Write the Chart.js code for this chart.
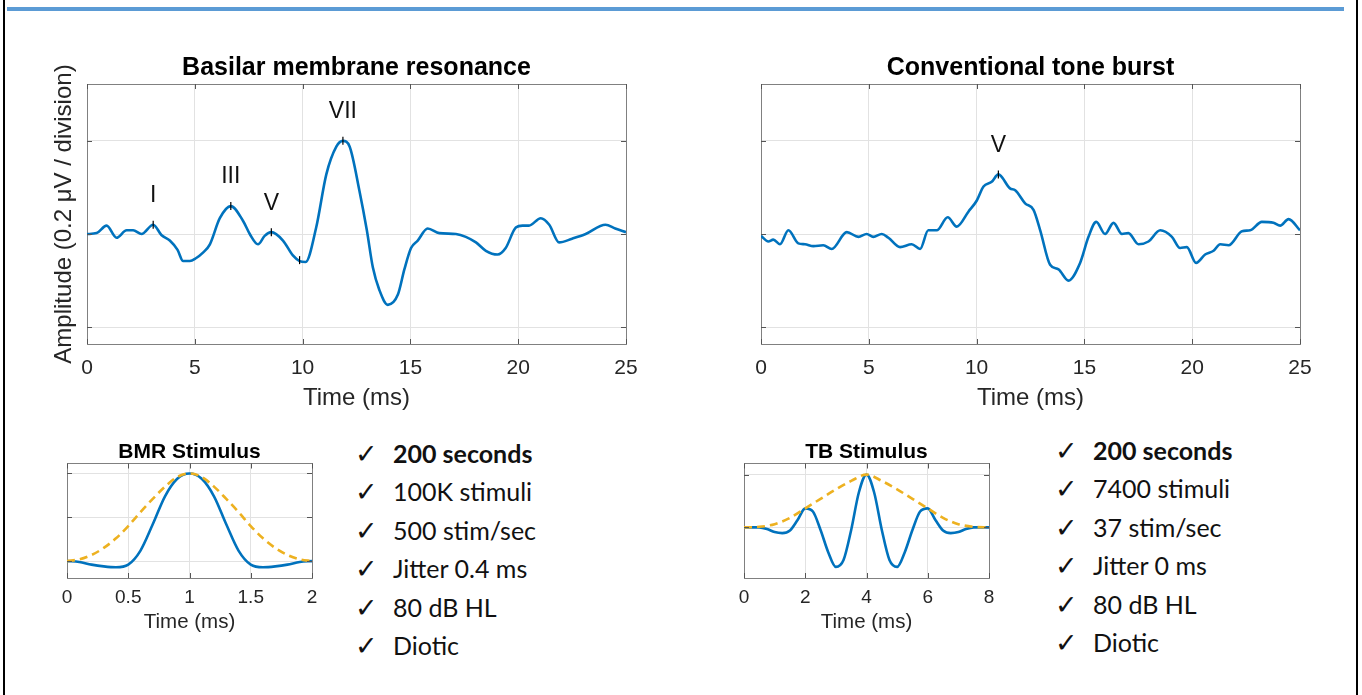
<!DOCTYPE html>
<html>
<head>
<meta charset="utf-8">
<script src="https://cdn.jsdelivr.net/npm/chart.js@4.4.1/dist/chart.umd.min.js"></script>
<style>
  body { margin: 0; width: 1362px; height: 695px; background: #fff; position: relative; overflow: hidden; }
  .frame { position: absolute; left: 3px; top: 0; width: 1351px; height: 700px; border-left: 2px solid #000; border-right: 2px solid #000; }
  .rule { position: absolute; left: 7px; top: 7px; width: 1337px; height: 4px; background: #5b9bd5; }
  canvas { position: absolute; }
  ul.checks { position: absolute; list-style: none; margin: 0; padding: 0; font-family: Lato, 'Open Sans', sans-serif; font-size: 25px; color: #111; }
  ul.checks li { height: 38.4px; line-height: 38.4px; white-space: nowrap; }
  ul.checks li span { display: inline-block; width: 38px; font-family: 'DejaVu Sans', sans-serif; font-size: 27px; }
</style>
</head>
<body>
<div class="frame"></div>
<div class="rule"></div>

<canvas id="bmrMain" width="633" height="376" style="left:40px; top:40px;"></canvas>
<canvas id="tbMain" width="633" height="376" style="left:714px; top:40px;"></canvas>
<canvas id="bmrStim" width="295" height="211" style="left:42px; top:426px;"></canvas>
<canvas id="tbStim" width="295" height="211" style="left:719px; top:426px;"></canvas>

<ul class="checks" style="left:355px; top:434px;">
  <li><span>✓</span><b>200 seconds</b></li>
  <li><span>✓</span>100K stimuli</li>
  <li><span>✓</span>500 stim/sec</li>
  <li><span>✓</span>Jitter 0.4 ms</li>
  <li><span>✓</span>80 dB HL</li>
  <li><span>✓</span>Diotic</li>
</ul>
<ul class="checks" style="left:1055px; top:431px;">
  <li><span>✓</span><b>200 seconds</b></li>
  <li><span>✓</span>7400 stimuli</li>
  <li><span>✓</span>37 stim/sec</li>
  <li><span>✓</span>Jitter 0 ms</li>
  <li><span>✓</span>80 dB HL</li>
  <li><span>✓</span>Diotic</li>
</ul>

<script>
// averaged responses (time in ms, amplitude in grid divisions)
const bmrTime = [0, 0.45, 0.91, 1.37, 1.84, 2.14, 2.53, 3.07, 3.45, 3.84, 4.2, 4.46, 4.77, 5.05, 5.38, 5.7, 6.16, 6.67, 7.24, 7.55,
  7.93, 8.24, 8.55, 9.09, 9.55, 9.86, 10.14, 10.63, 11.1, 11.57, 11.87, 12.18, 12.64, 12.98, 13.26, 13.56, 13.95, 14.42, 14.72, 15.03,
  15.34, 15.8, 16.34, 17.11, 17.57, 18.04, 18.5, 19.04, 19.42, 19.89, 20.2, 20.5, 21.05, 21.44, 21.9, 22.5, 23.13, 24.05, 24.5, 25];
const bmrAmp = [0, 0.01, 0.09, -0.04, 0.04, 0.04, 0, 0.1, -0.01, -0.07, -0.17, -0.29, -0.29, -0.26, -0.2, -0.11, 0.17, 0.3, 0.14, 0,
  -0.11, -0.02, 0.02, -0.07, -0.23, -0.29, -0.3, 0.07, 0.64, 0.94, 1.0, 0.94, 0.46, 0.04, -0.36, -0.6, -0.76, -0.65, -0.38, -0.15,
  -0.07, 0.06, 0.01, 0, -0.03, -0.09, -0.18, -0.22, -0.15, 0.07, 0.09, 0.09, 0.17, 0.1, -0.09, -0.05, 0, 0.1, 0.06, 0.02];
const bmrPeakTime = [3.07, 6.67, 8.55, 9.86, 11.87];
const bmrPeakAmp = [0.1, 0.3, 0.02, -0.28, 1.0];
const bmrPeakNames = ['I', 'III', 'V', '', 'VII'];

const tbTime = [0, 0.34, 0.57, 0.88, 1.27, 1.73, 2.04, 2.43, 2.89, 3.28, 3.98, 4.52, 4.9, 5.21, 5.6, 5.91, 6.45, 6.99, 7.38, 7.76,
  8.15, 8.66, 9.08, 9.62, 10.01, 10.32, 10.7, 11.01, 11.55, 11.79, 12.25, 12.64, 12.95, 13.41, 13.8, 14.26, 14.8, 15.19, 15.55, 15.96,
  16.35, 16.74, 17.04, 17.51, 17.97, 18.52, 19.06, 19.44, 19.75, 20.18, 20.6, 20.99, 21.3, 21.69, 22.31, 22.69, 23.23, 23.77, 24.08, 24.47, 25];
const tbAmp = [-0.02, -0.08, -0.06, -0.11, 0.04, -0.1, -0.11, -0.13, -0.12, -0.16, 0.02, -0.03, 0, -0.03, 0, -0.04, -0.14, -0.11, -0.16, 0.04,
  0.04, 0.18, 0.08, 0.24, 0.36, 0.51, 0.56, 0.64, 0.49, 0.47, 0.33, 0.26, 0.04, -0.33, -0.38, -0.5, -0.31, -0.03, 0.13, 0,
  0.12, 0, 0.01, -0.11, -0.08, 0.04, -0.03, -0.15, -0.14, -0.31, -0.22, -0.18, -0.11, -0.12, 0.03, 0.04, 0.13, 0.12, 0.09, 0.16, 0.04];
const tbPeakTime = [11.01];
const tbPeakAmp = [0.64];
const tbPeakNames = ['V'];

// stimulus waveforms
const bmrStimTime = [0, 0.1, 0.2, 0.3, 0.4, 0.5, 0.6, 0.7, 0.8, 0.9, 1.0, 1.1, 1.2, 1.3, 1.4, 1.5, 1.6, 1.7, 1.8, 1.9, 2.0];
const bmrStimWave = [0, -0.01, -0.04, -0.06, -0.07, -0.04, 0.12, 0.42, 0.74, 0.94, 1.0, 0.94, 0.74, 0.42, 0.12, -0.04, -0.07, -0.06, -0.04, -0.01, 0];
const bmrStimEnv = [0, 0.02, 0.07, 0.15, 0.26, 0.4, 0.56, 0.71, 0.85, 0.96, 1.0, 0.96, 0.85, 0.71, 0.56, 0.4, 0.26, 0.15, 0.07, 0.02, 0];

const tbStimTime = [0, 0.25, 0.5, 0.75, 1, 1.25, 1.5, 1.75, 2, 2.25, 2.5, 2.75, 3, 3.25, 3.5, 3.75, 4,
  4.25, 4.5, 4.75, 5, 5.25, 5.5, 5.75, 6, 6.25, 6.5, 6.75, 7, 7.25, 7.5, 7.75, 8];
const tbStimWave = [0, 0, 0, -0.03, -0.09, -0.11, -0.06, 0.14, 0.36, 0.3, -0.05, -0.47, -0.75, -0.62, -0.05, 0.66, 1.0,
  0.66, -0.05, -0.62, -0.75, -0.47, -0.05, 0.3, 0.36, 0.14, -0.06, -0.11, -0.09, -0.03, 0, 0, 0];
const tbEnvTime = [0, 0.5, 1, 1.5, 2, 2.5, 3, 3.5, 4, 4.5, 5, 5.5, 6, 6.5, 7, 7.5, 8];
const tbEnv = [0, 0.01, 0.06, 0.18, 0.36, 0.54, 0.72, 0.88, 1.0, 0.88, 0.72, 0.54, 0.36, 0.18, 0.06, 0.01, 0];

// tick values
const mainTimeTicks = [0, 5, 10, 15, 20, 25];
const mainAmpTicks = [-1, 0, 1];
const bmrStimTicks = [0, 0.5, 1, 1.5, 2];
const bmrStimAmpTicks = [0, 0.5, 1];
const tbStimTicks = [0, 2, 4, 6, 8];
const tbStimAmpTicks = [0, 1];

const FONT = "'Liberation Sans', Arial, sans-serif";
const BLUE = '#0072bd', ORANGE = '#edb120', GRID = '#e2e2e2', AXIS = '#808080', INK = '#262626';

function pts(xs, ys) {
  return xs.map((x, i) => ({ x: x, y: ys[i] }));
}
function setTicks(values) {
  return s => { s.ticks = values.map(v => ({ value: v })); };
}

// peak labels above the tick markers
const peakLabels = {
  id: 'peakLabels',
  afterDatasetsDraw(chart) {
    const ds = chart.data.datasets[0];
    if (!ds.peakNames) return;
    const ctx = chart.ctx;
    ctx.save();
    ctx.font = '23px ' + FONT;
    ctx.fillStyle = '#111';
    ctx.textAlign = 'center';
    ctx.textBaseline = 'middle';
    chart.getDatasetMeta(0).data.forEach((p, i) => {
      if (ds.peakNames[i]) ctx.fillText(ds.peakNames[i], p.x, p.y - 29);
    });
    ctx.restore();
  }
};

// small inward tick marks on the box, matlab style
const boxTicks = {
  id: 'boxTicks',
  afterDraw(chart) {
    const { ctx, chartArea: a, scales } = chart;
    ctx.save();
    ctx.strokeStyle = '#555';
    ctx.lineWidth = 1;
    ctx.beginPath();
    scales.x.ticks.forEach(t => {
      const px = Math.round(scales.x.getPixelForValue(t.value)) + 0.5;
      ctx.moveTo(px, a.bottom); ctx.lineTo(px, a.bottom - 5);
      ctx.moveTo(px, a.top); ctx.lineTo(px, a.top + 5);
    });
    scales.y.ticks.forEach(t => {
      const py = Math.round(scales.y.getPixelForValue(t.value)) + 0.5;
      ctx.moveTo(a.left, py); ctx.lineTo(a.left + 5, py);
      ctx.moveTo(a.right, py); ctx.lineTo(a.right - 5, py);
    });
    ctx.stroke();
    ctx.restore();
  }
};

function boxScales(s) {
  const hide = { display: false, drawTicks: false };
  return {
    x: {
      type: 'linear', min: s.xmin, max: s.xmax, afterBuildTicks: setTicks(s.xTicks),
      grid: { color: GRID, drawTicks: false }, border: { color: AXIS },
      ticks: {
        color: INK, font: { family: FONT, size: s.tickSize }, padding: s.tickPad, maxRotation: 0,
        callback: v => String(v)
      },
      title: { display: true, text: 'Time (ms)', color: INK, font: { family: FONT, size: s.labelSize }, padding: { top: 0, bottom: s.titlePad } },
      afterFit: sc => { sc.height = s.xHeight; }
    },
    x2: {
      type: 'linear', position: 'top', min: s.xmin, max: s.xmax,
      grid: hide, border: { color: AXIS }, ticks: { display: false },
      afterFit: sc => { sc.height = 0; }
    },
    y: {
      type: 'linear', min: s.ymin, max: s.ymax, afterBuildTicks: setTicks(s.yTicks),
      grid: { color: GRID, drawTicks: false }, border: { color: AXIS },
      ticks: { display: false },
      title: { display: !!s.yTitle, text: s.yTitle || '', color: INK, font: { family: FONT, size: s.labelSize }, padding: { top: 9.6, bottom: 0 } },
      afterFit: sc => { sc.width = s.yWidth; }
    },
    y2: {
      type: 'linear', position: 'right', min: s.ymin, max: s.ymax,
      grid: hide, border: { color: AXIS }, ticks: { display: false },
      afterFit: sc => { sc.width = s.yWidth; }
    }
  };
}

function mainChart(id, title, time, amp, peakT, peakA, peakN, yTitle) {
  new Chart(document.getElementById(id), {
    type: 'line',
    data: {
      datasets: [{
        data: pts(peakT, peakA),
        peakNames: peakN,
        showLine: false,
        pointStyle: 'line',
        pointRotation: 90,
        pointRadius: 4,
        pointBorderColor: '#000',
        pointBorderWidth: 1.2
      }, {
        data: pts(time, amp),
        borderColor: BLUE,
        borderWidth: 2.6,
        pointRadius: 0,
        cubicInterpolationMode: 'monotone',
        fill: false
      }]
    },
    options: {
      responsive: false,
      animation: false,
      devicePixelRatio: 1,
      events: [],
      layout: { padding: 0 },
      plugins: {
        legend: { display: false },
        tooltip: { enabled: false },
        title: {
          display: true, text: title, color: '#000',
          font: { family: FONT, size: 25, weight: 'bold' },
          padding: { top: 13, bottom: 1 }
        }
      },
      scales: boxScales({
        xmin: 0, xmax: 25, xTicks: mainTimeTicks,
        ymin: -1.18, ymax: 1.61, yTicks: mainAmpTicks,
        tickSize: 21, labelSize: 24, tickPad: 11.4, titlePad: 3.6,
        xHeight: 72, yWidth: 47, yTitle: yTitle
      })
    },
    plugins: [peakLabels, boxTicks]
  });
}

function stimChart(id, title, time, wave, envTime, env, xTicks, ymin, ymax, yTicks) {
  new Chart(document.getElementById(id), {
    type: 'line',
    data: {
      datasets: [{
        data: pts(envTime, env),
        borderColor: ORANGE,
        borderWidth: 2.6,
        borderDash: [8, 5],
        pointRadius: 0,
        cubicInterpolationMode: 'monotone',
        fill: false
      }, {
        data: pts(time, wave),
        borderColor: BLUE,
        borderWidth: 2.6,
        pointRadius: 0,
        cubicInterpolationMode: 'monotone',
        fill: false
      }]
    },
    options: {
      responsive: false,
      animation: false,
      devicePixelRatio: 1,
      events: [],
      layout: { padding: { left: 25, right: 25, top: 0, bottom: 0 } },
      plugins: {
        legend: { display: false },
        tooltip: { enabled: false },
        title: {
          display: true, text: title, color: '#000',
          font: { family: FONT, size: 21, weight: 'bold', lineHeight: 1 },
          padding: { top: 16, bottom: 0.5 }
        }
      },
      scales: boxScales({
        xmin: xTicks[0], xmax: xTicks[xTicks.length - 1], xTicks: xTicks,
        ymin: ymin, ymax: ymax, yTicks: yTicks,
        tickSize: 19, labelSize: 20.5, tickPad: 8, titlePad: 2,
        xHeight: 59, yWidth: 0
      })
    },
    plugins: [boxTicks]
  });
}

mainChart('bmrMain', 'Basilar membrane resonance', bmrTime, bmrAmp, bmrPeakTime, bmrPeakAmp, bmrPeakNames, 'Amplitude (0.2 μV / division)');
mainChart('tbMain', 'Conventional tone burst', tbTime, tbAmp, tbPeakTime, tbPeakAmp, tbPeakNames, '');
stimChart('bmrStim', 'BMR Stimulus', bmrStimTime, bmrStimWave, bmrStimTime, bmrStimEnv, bmrStimTicks, -0.193, 1.114, bmrStimAmpTicks);
stimChart('tbStim', 'TB Stimulus', tbStimTime, tbStimWave, tbEnvTime, tbEnv, tbStimTicks, -0.96, 1.21, tbStimAmpTicks);
</script>
</body>
</html>
